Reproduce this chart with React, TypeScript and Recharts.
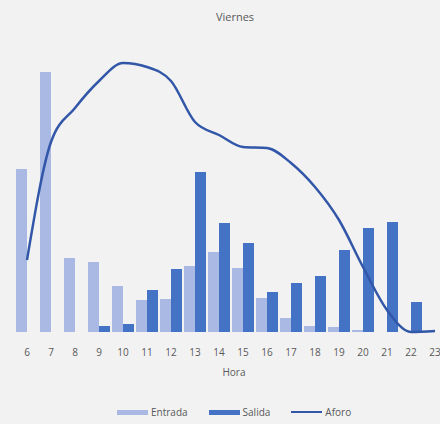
import { ComposedChart, Bar, Line, XAxis, YAxis } from "recharts";

const HOURS = ["6", "7", "8", "9", "10", "11", "12", "13", "14", "15", "16", "17", "18", "19", "20", "21", "22", "23"];
const ENTRADA = [163, 260, 74, 70, 46, 32, 33, 66, 80, 64, 34, 14, 6, 5, 2, 0, 0, 0];
const SALIDA = [0, 0, 0, 6, 8, 42, 63, 160, 109, 89, 40, 49, 56, 82, 104, 110, 30, 0];
const AFORO = [72, 190, 224, 251, 269, 265, 251, 210, 197, 185, 184, 169, 145, 112, 65, 22, 0, 1];

const COLOR_ENTRADA = "#a9b9e3";
const COLOR_SALIDA = "#4472c4";
const COLOR_AFORO = "#3257a8";
const FONT = "'Open Sans', 'Liberation Sans', sans-serif";

const data = HOURS.map((h, i) => ({
  hora: h,
  entrada: ENTRADA[i],
  salida: SALIDA[i],
  aforo: AFORO[i],
}));

function LegendItem({ color, label, thick }: { color: string; label: string; thick: boolean }) {
  return (
    <span style={{ display: "inline-flex", alignItems: "center", marginRight: 21 }}>
      <span
        style={{
          display: "inline-block",
          width: 31,
          height: thick ? 5 : 2,
          background: color,
          marginRight: 3,
        }}
      />
      <span>{label}</span>
    </span>
  );
}

export default function App() {
  return (
    <div
      style={{
        position: "absolute",
        left: 0,
        top: 0,
        width: 440,
        height: 424,
        overflow: "hidden",
        background: "#f2f2f2",
        fontFamily: FONT,
        color: "#595959",
      }}
    >
      <div style={{ position: "absolute", left: 0, width: 470, top: 9, textAlign: "center", fontSize: 11 }}>
        Viernes
      </div>
      <ComposedChart
        width={460}
        height={424}
        data={data}
        margin={{ top: 52, right: 13, bottom: 62, left: 15 }}
        barCategoryGap={1}
        barGap={0}
      >
        <XAxis
          dataKey="hora"
          height={30}
          axisLine={false}
          tickLine={false}
          tickMargin={11}
          interval={0}
          tick={{ fill: "#595959", fontSize: 10, fontFamily: FONT }}
        />
        <YAxis hide domain={[0, 280]} />
        <Bar dataKey="entrada" name="Entrada" fill={COLOR_ENTRADA} isAnimationActive={false} />
        <Bar dataKey="salida" name="Salida" fill={COLOR_SALIDA} isAnimationActive={false} />
        <Line
          type="monotone"
          dataKey="aforo"
          name="Aforo"
          stroke={COLOR_AFORO}
          strokeWidth={2.5}
          dot={false}
          isAnimationActive={false}
        />
      </ComposedChart>
      <div style={{ position: "absolute", left: 0, width: 468, top: 365, textAlign: "center", fontSize: 10 }}>
        Hora
      </div>
      <div
        style={{
          position: "absolute",
          left: 117,
          top: 405,
          fontSize: 10,
          display: "flex",
          alignItems: "center",
          whiteSpace: "nowrap",
        }}
      >
        <LegendItem color={COLOR_ENTRADA} label="Entrada" thick />
        <LegendItem color={COLOR_SALIDA} label="Salida" thick />
        <LegendItem color={COLOR_AFORO} label="Aforo" thick={false} />
      </div>
    </div>
  );
}
